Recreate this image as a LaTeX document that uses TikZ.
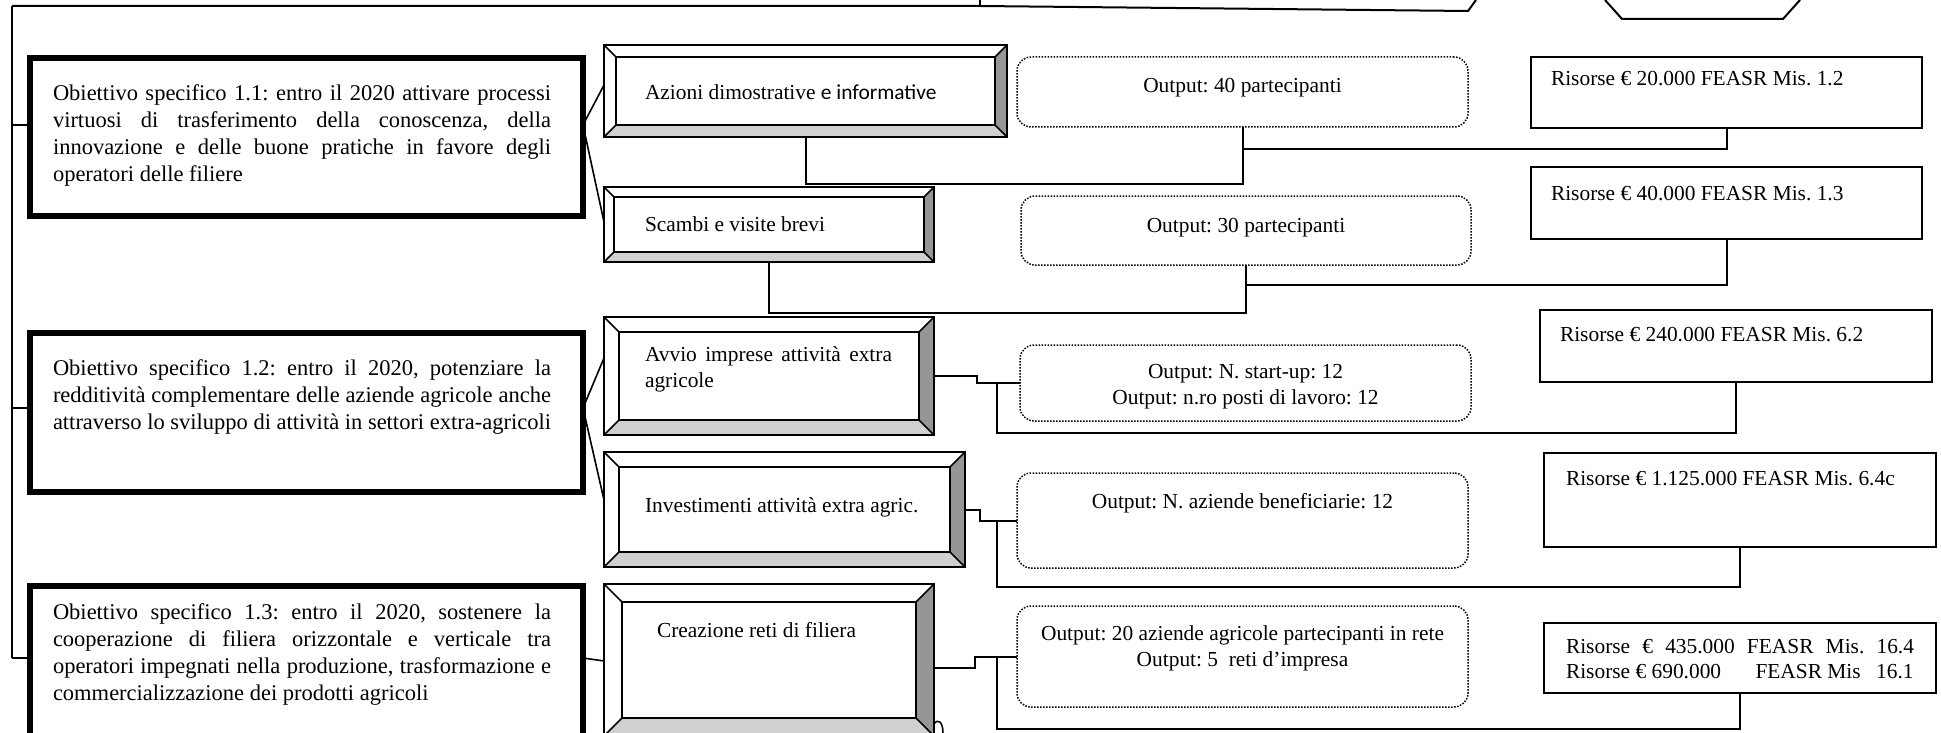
\documentclass[tikz,border=0pt]{standalone}
\usepackage{fontspec}
\setmainfont{Liberation Serif}
\newfontfamily\calib{Carlito}
\usetikzlibrary{calc}
\frenchspacing
\newcommand\objsize{\fontsize{22.5}{27}\selectfont}
\newcommand\smsize{\fontsize{21.4}{26.5}\selectfont}
\definecolor{bevdark}{RGB}{150,150,150}
\definecolor{bevlight}{RGB}{208,208,208}
\newcommand\bevelfx[2]{%
 \fill[bevdark] (#1.north east) -- (#1.south east) -- ($(#1.south east)+(-#2,#2)$) -- ($(#1.north east)+(-#2,-#2)$) -- cycle;
 \fill[bevlight] (#1.south west) -- (#1.south east) -- ($(#1.south east)+(-#2,#2)$) -- ($(#1.south west)+(#2,#2)$) -- cycle;
 \draw[bevline] ($(#1.north west)+(#2,-#2)$) rectangle ($(#1.south east)+(-#2,#2)$);
 \draw[bevline] (#1.north west) -- ($(#1.north west)+(#2,-#2)$)
   (#1.north east) -- ($(#1.north east)+(-#2,-#2)$)
   (#1.south west) -- ($(#1.south west)+(#2,#2)$)
   (#1.south east) -- ($(#1.south east)+(-#2,#2)$);
 \draw[bevline] (#1.north west) rectangle (#1.south east);
}
\tikzset{
 conn/.style={line width=2pt},
 spine/.style={line width=1.6pt},
 objbox/.style={draw, line width=5.5pt, inner sep=0, outer sep=0, anchor=north west},
 bevbox/.style={draw, line width=1.6pt, inner sep=0, outer sep=0, anchor=north west},
 bevline/.style={line width=1.6pt, line join=miter},
 resbox/.style={draw, line width=2.2pt, inner sep=0, outer sep=0, anchor=north west},
 outbox/.style={draw, line width=1.5pt, dash pattern=on 1.5pt off 1.5pt, rounded corners=14pt, inner sep=0, outer sep=0, anchor=north west},
 txt/.style={inner sep=0, outer sep=0, font=\smsize, anchor=base west},
 ctxt/.style={inner sep=0, outer sep=0, font=\smsize, anchor=base},
 otxt/.style={inner sep=0, outer sep=0, font=\objsize, anchor=base west},
}
\begin{document}
\begin{tikzpicture}[x=1pt,y=1pt]
\useasboundingbox (0,0) rectangle (1941,-733);
\clip (0,0) rectangle (1941,-733);
\fill[white] (0,0) rectangle (1941,-733);

% partial shapes at the top
\coordinate (ptop) at (12,-6);
\coordinate (ptick) at (980,-6);
\coordinate (ptickt) at (980,0);
\coordinate (pslope) at (1468,-11);
\coordinate (pend) at (1476,0);
\draw[conn] (ptop) -- (ptick) -- (pslope) -- (pend);
\draw[conn] (ptickt) -- (ptick);
\coordinate (h1) at (1605,0);
\coordinate (h2) at (1622,-19);
\coordinate (h3) at (1783,-19);
\coordinate (h4) at (1800,0);
\draw[conn] (h1) -- (h2) -- (h3) -- (h4);

% objective boxes
\node[objbox, minimum width=553pt, minimum height=158pt] (o1) at (30,-58) {};
\node[objbox, minimum width=553pt, minimum height=159pt] (o2) at (30,-333) {};
\node[objbox, minimum width=553pt, minimum height=180pt] (o3) at (30,-586) {};

\node[otxt] (o1t) at (53,-101) {\parbox[t]{530pt}{%
\makebox[498pt][s]{Obiettivo specifico 1.1: entro il 2020 attivare processi}\\
\makebox[498pt][s]{virtuosi di trasferimento della conoscenza, della}\\
\makebox[498pt][s]{innovazione e delle buone pratiche in favore degli}\\
operatori delle filiere}};
\node[otxt] (o2t) at (53,-375) {\parbox[t]{530pt}{%
\makebox[498pt][s]{Obiettivo specifico 1.2: entro il 2020, potenziare la}\\
\makebox[498pt][s]{redditività complementare delle aziende agricole anche}\\
\makebox[498pt][s]{attraverso lo sviluppo di attività in settori extra-agricoli}}};
\node[otxt] (o3t) at (53,-619) {\parbox[t]{530pt}{%
\makebox[498pt][s]{Obiettivo specifico 1.3: entro il 2020, sostenere la}\\
\makebox[498pt][s]{cooperazione di filiera orizzontale e verticale tra}\\
\makebox[498pt][s]{operatori impegnati nella produzione, trasformazione e}\\
commercializzazione dei prodotti agricoli}};

% spine
\coordinate (pbot) at (12,-658);
\draw[spine] (ptop) -- (pbot);
\coordinate (s1) at (12,-125);
\coordinate (s2) at (12,-408);
\draw[spine] (s1) -- (o1.west |- s1);
\draw[spine] (s2) -- (o2.west |- s2);
\draw[spine] (pbot) -- (o3.west |- pbot);

% bevel boxes
\node[bevbox, minimum width=403pt, minimum height=92pt] (az) at (604,-45) {};
\bevelfx{az}{12}
\node[bevbox, minimum width=330pt, minimum height=75pt] (sc) at (604,-187) {};
\bevelfx{sc}{10}
\node[bevbox, minimum width=330pt, minimum height=118pt] (av) at (604,-317) {};
\bevelfx{av}{15}
\node[bevbox, minimum width=361pt, minimum height=115pt] (inv) at (604,-452) {};
\bevelfx{inv}{15}
\node[bevbox, minimum width=330pt, minimum height=152pt] (cr) at (604,-584) {};
\bevelfx{cr}{18}

\node[txt] (azt) at (645,-100) {Azioni dimostrative {\calib e informative}};
\node[txt] (sct) at (645,-231) {Scambi e visite brevi};
\node[txt] (avt) at (645,-361) {\parbox[t]{300pt}{\makebox[247pt][s]{Avvio imprese attività extra}\\agricole}};
\node[txt] (invt) at (645,-512) {Investimenti attività extra agric.};
\node[txt] (crt) at (657,-637) {Creazione reti di filiera};

% output boxes
\node[outbox, minimum width=451pt, minimum height=70pt] (out40) at (1017,-57) {};
\node[outbox, minimum width=450pt, minimum height=69pt] (out30) at (1021,-196) {};
\node[outbox, minimum width=451pt, minimum height=76pt] (os) at (1020,-345) {};
\node[outbox, minimum width=451pt, minimum height=95pt] (oaz) at (1017,-473) {};
\node[outbox, minimum width=451pt, minimum height=101pt] (o20) at (1017,-606) {};

\node[ctxt] (out40t) at (out40.center |- 0,-93) {Output: 40 partecipanti};
\node[ctxt] (out30t) at (out30.center |- 0,-232) {Output: 30 partecipanti};
\node[ctxt] (ost) at (os.center |- 0,-378) {\parbox[t]{440pt}{\centering Output: N. start-up: 12\\Output: n.ro posti di lavoro: 12}};
\node[ctxt] (oazt) at (oaz.center |- 0,-508) {Output: N. aziende beneficiarie: 12};
\node[ctxt] (o20t) at (o20.center |- 0,-640) {\parbox[t]{440pt}{\centering Output: 20 aziende agricole partecipanti in rete\\Output: 5\hspace*{5.3pt} reti d’impresa}};

% resource boxes
\node[resbox, minimum width=391pt, minimum height=71pt] (r12) at (1531,-57) {};
\node[resbox, minimum width=391pt, minimum height=72pt] (r13) at (1531,-167) {};
\node[resbox, minimum width=392pt, minimum height=72pt] (r62) at (1540,-310) {};
\node[resbox, minimum width=392pt, minimum height=94pt] (r64) at (1544,-453) {};
\node[resbox, minimum width=392pt, minimum height=70pt] (r16) at (1544,-623) {};

\node[txt] (r12t) at (1551,-86) {Risorse € 20.000 FEASR Mis. 1.2};
\node[txt] (r13t) at (1551,-200) {Risorse € 40.000 FEASR Mis. 1.3};
\node[txt] (r62t) at (1560,-341) {Risorse € 240.000 FEASR Mis. 6.2};
\node[txt] (r64t) at (1566,-485) {Risorse € 1.125.000 FEASR Mis. 6.4c};
\node[txt] (r16t) at (1566,-653) {\parbox[t]{360pt}{\fontsize{21.4}{25}\selectfont\makebox[348pt][s]{Risorse € 435.000 FEASR Mis. 16.4}\\Risorse € 690.000\hspace*{29pt} FEASR Mis\hspace*{10pt} 16.1}};

% fans from objectives
\draw[spine] ([yshift=12pt]o1.east) -- (az.west |- 0,-85);
\draw[spine] ([yshift=12pt]o1.east) -- (sc.west |- 0,-222);
\draw[spine] ([yshift=4.5pt]o2.east) -- (av.west |- 0,-358);
\draw[spine] ([yshift=4.5pt]o2.east) -- (inv.west |- 0,-500);
\draw[spine] (o3.east |- pbot) -- (cr.west |- 0,-661);

% connectors
\draw[conn] (az.south) -- ++(0,-47) -| (out40.south);
\draw[conn] (out40.south) ++(0,-22) -| (r12.south);
\draw[conn] (sc.south) -- ++(0,-51) -| (out30.south);
\draw[conn] (out30.south) ++(0,-20) -| (r13.south);
\draw[conn] (av.east) -- ++(43,0) |- (os.west);
\draw[conn] (os.west) ++(-23,0) -- ++(0,-50) -| (r62.south);
\draw[conn] (inv.east) -- ++(15,0) |- (oaz.west);
\draw[conn] (oaz.west) ++(-20,0) -- ++(0,-66) -| (r64.south);
\draw[conn] ([yshift=-8pt]cr.east) -- ++(41,0) |- (o20.west);
\draw[conn] (o20.west) ++(-20,0) -- ++(0,-72.5) -| (r16.south);

% small hook near the last action box
\coordinate (hk1) at (934,-724);
\coordinate (hk2) at (943,-733);
\draw[line width=1.5pt] (hk1) .. controls (938,-718) and (943,-722) .. (hk2);
\end{tikzpicture}
\end{document}
